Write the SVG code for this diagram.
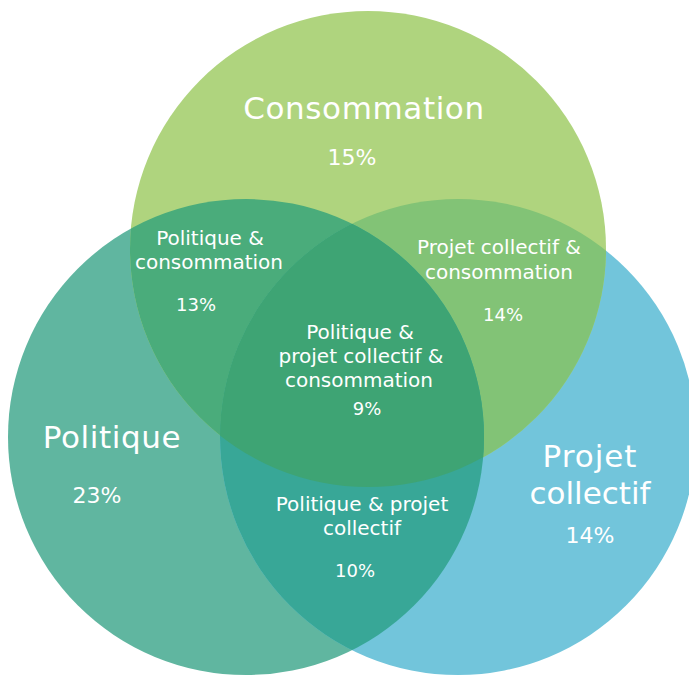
<svg xmlns="http://www.w3.org/2000/svg" width="689" height="675" viewBox="0 0 689 675">
<style>
text{font-family:"DejaVu Sans","Liberation Sans",sans-serif;fill:#ffffff;text-anchor:middle}
.big{font-size:31px}
.lbl{font-size:20px}
.pct{font-size:18px}
.pbig{font-size:22px}
</style>
<defs>
<clipPath id="cP"><circle cx="246" cy="437" r="238"/></clipPath>
<clipPath id="cJ"><circle cx="458" cy="437" r="238"/></clipPath>
<clipPath id="cC"><circle cx="368" cy="249" r="238"/></clipPath>
</defs>
<rect width="689" height="675" fill="#ffffff"/>
<g id="politique">
<circle cx="246" cy="437" r="238" fill="#60b6a0"/>
<text class="big" x="112" y="448" letter-spacing="0.6">Politique</text>
<text class="pbig" x="97" y="503">23%</text>
</g>
<g id="projet-collectif">
<circle cx="458" cy="437" r="238" fill="#72c5db"/>
<text class="big" x="590" y="467" letter-spacing="1">Projet</text>
<text class="big" x="590" y="504">collectif</text>
<text class="pbig" x="590" y="543">14%</text>
</g>
<g id="consommation">
<circle cx="368" cy="249" r="238" fill="#afd47e"/>
<text class="big" x="364" y="119" letter-spacing="0.6">Consommation</text>
<text class="pbig" x="352" y="165">15%</text>
</g>
<g id="politique-consommation">
<g clip-path="url(#cP)"><circle cx="368" cy="249" r="238" fill="#4aac7b"/></g>
<text class="lbl" x="210" y="245">Politique &amp;</text>
<text class="lbl" x="209" y="269">consommation</text>
<text class="pct" x="196" y="311">13%</text>
</g>
<g id="projet-consommation">
<g clip-path="url(#cJ)"><circle cx="368" cy="249" r="238" fill="#82c376"/></g>
<text class="lbl" x="499" y="254">Projet collectif &amp;</text>
<text class="lbl" x="499" y="279">consommation</text>
<text class="pct" x="503" y="321">14%</text>
</g>
<g id="politique-projet">
<g clip-path="url(#cJ)"><circle cx="246" cy="437" r="238" fill="#38a797"/></g>
<text class="lbl" x="362" y="511">Politique &amp; projet</text>
<text class="lbl" x="362" y="535">collectif</text>
<text class="pct" x="355" y="577">10%</text>
</g>
<g id="politique-projet-consommation">
<g clip-path="url(#cJ)"><g clip-path="url(#cP)"><circle cx="368" cy="249" r="238" fill="#3ea474"/></g></g>
<text class="lbl" x="360" y="339">Politique &amp;</text>
<text class="lbl" x="361" y="363">projet collectif &amp;</text>
<text class="lbl" x="359" y="387">consommation</text>
<text class="pct" x="367" y="415">9%</text>
</g>
<g id="connectors"></g>
</svg>
